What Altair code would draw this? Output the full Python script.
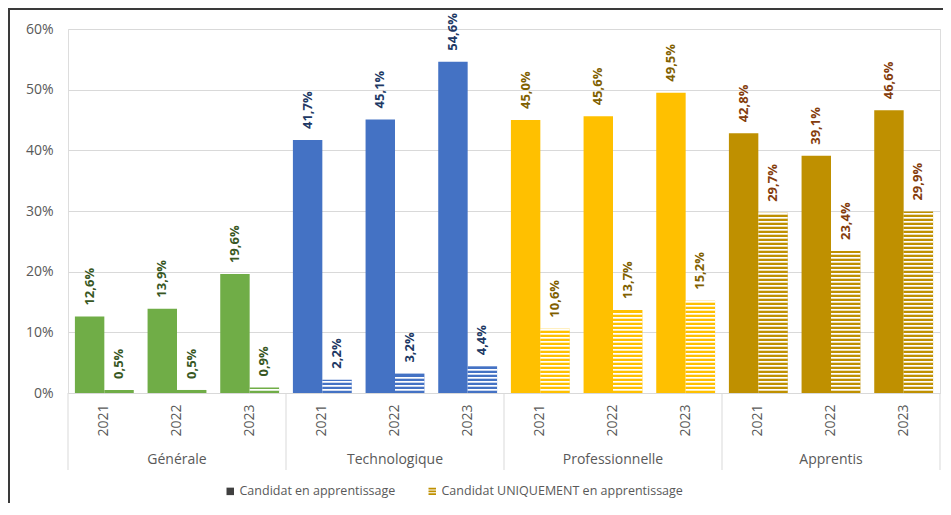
import altair as alt
import pandas as pd

categories = ["Générale", "Technologique", "Professionnelle", "Apprentis"]
years = ["2021", "2022", "2023"]
series = ["Candidat en apprentissage", "Candidat UNIQUEMENT en apprentissage"]
candidat = [[12.6, 13.9, 19.6], [41.7, 45.1, 54.6], [45.0, 45.6, 49.5], [42.8, 39.1, 46.6]]
uniquement = [[0.5, 0.5, 0.9], [2.2, 3.2, 4.4], [10.6, 13.7, 15.2], [29.7, 23.4, 29.9]]
bar_colors = ["#70AD47", "#4472C4", "#FFC000", "#BF9000"]
label_colors = ["#385723", "#203864", "#7F6000", "#843C0C"]
legend_colors = ["#404040", "#BF9000"]

W, H = 872, 364
YMAX = 0.6
PX = YMAX / H          # data units per pixel
STEP = 4 * PX          # stripe period
COLORED = 2.3 * PX     # coloured part of the stripe
FONT = "Open Sans"
GREY = "#595959"
GRID = "#D9D9D9"

rows = []
slots = []
for ci, cat in enumerate(categories):
    for yi, yr in enumerate(years):
        slot = f"{cat}|{yr}"
        slots.append(slot)
        for si, s in enumerate(series):
            v = (candidat if si == 0 else uniquement)[ci][yi] / 100
            rows.append({"slot": slot, "series": s, "value": v,
                         "bar_color": bar_colors[ci], "label_color": label_colors[ci]})
df = pd.DataFrame(rows)

n = len(years)
cat_df = pd.DataFrame({"cat": categories, "center": [i * n + n / 2 for i in range(len(categories))]})
sep_df = pd.DataFrame({"b": [i * n for i in range(len(categories) + 1)]})
leg_df = pd.DataFrame({"series": series})

x_enc = alt.X("slot:N", sort=slots,
              scale=alt.Scale(domain=slots, paddingInner=0.19, paddingOuter=0.095),
              axis=alt.Axis(labelExpr="split(datum.label, '|')[1]", labelAngle=270,
                            labelFont=FONT, labelFontSize=14, labelColor=GREY,
                            labelPadding=11, ticks=False, domain=True, domainColor=GRID,
                            grid=False, title=None))
x_plain = alt.X("slot:N", sort=slots,
                scale=alt.Scale(domain=slots, paddingInner=0.19, paddingOuter=0.095))
xoff = alt.XOffset("series:N", scale=alt.Scale(domain=series, paddingInner=0, paddingOuter=0))
y_enc = alt.Y("value:Q", scale=alt.Scale(domain=[0, YMAX], nice=False),
              axis=alt.Axis(values=[0, 0.1, 0.2, 0.3, 0.4, 0.5, 0.6], format=".0%",
                            labelFont=FONT, labelFontSize=14, labelColor=GREY,
                            labelPadding=15, ticks=False, domain=False,
                            gridColor=GRID, title=None))

bars = alt.Chart(df).mark_bar().encode(
    x=x_enc, xOffset=xoff, y=y_enc,
    color=alt.Color("bar_color:N", scale=None))

stripes = alt.Chart(df).transform_filter(
    alt.datum.series == series[1]
).transform_calculate(
    k="sequence(0, 60)"
).transform_flatten(["k"]).transform_calculate(
    y0=f"datum.k * {STEP} + {COLORED}",
    y1=f"(datum.k + 1) * {STEP}"
).transform_filter("datum.y1 <= datum.value").mark_bar(color="white").encode(
    x=x_plain, xOffset=xoff,
    y=alt.Y("y0:Q", scale=alt.Scale(domain=[0, YMAX], nice=False)),
    y2="y1:Q")

labels = alt.Chart(df).transform_calculate(
    lab="replace(format(datum.value, '.1%'), '.', ',')"
).mark_text(angle=270, align="left", baseline="middle", dx=11,
            font=FONT, fontSize=13, fontWeight="bold").encode(
    x=x_plain, xOffset=xoff,
    y=alt.Y("value:Q", scale=alt.Scale(domain=[0, YMAX], nice=False)),
    text="lab:N",
    color=alt.Color("label_color:N", scale=None))

STRIPE_PATH = "M-1,-1H1V-0.5H-1Z M-1,-0.25H1V0.25H-1Z M-1,0.5H1V1H-1Z"
leg = alt.Legend(orient="none", legendX=156, legendY=456, direction="horizontal",
                 title=None, labelFont=FONT, labelFontSize=12.5, labelColor=GREY,
                 labelLimit=1000, symbolSize=56, symbolOpacity=1, symbolStrokeWidth=0,
                 columnPadding=30, padding=0, labelOffset=3)
dummy = alt.Chart(leg_df).mark_point(filled=True, opacity=0).encode(
    x=alt.value(0), y=alt.value(0),
    fill=alt.Fill("series:N", scale=alt.Scale(domain=series, range=legend_colors), legend=leg),
    shape=alt.Shape("series:N", scale=alt.Scale(domain=series, range=["square", STRIPE_PATH]),
                    legend=leg))

inner = alt.layer(bars, stripes, labels, dummy)

seps = alt.Chart(sep_df).mark_rule(color=GRID).encode(
    x=alt.X("b:Q", scale=alt.Scale(domain=[0, n * len(categories)], nice=False), axis=None),
    y=alt.value(H), y2=alt.value(H + 77))

cats = alt.Chart(cat_df).mark_text(font=FONT, fontSize=14, color=GREY,
                                   align="center", baseline="alphabetic").encode(
    x=alt.X("center:Q", scale=alt.Scale(domain=[0, n * len(categories)], nice=False), axis=None),
    y=alt.value(435), text="cat:N")

border_v = alt.Chart(alt.Data(values=[{}])).mark_rule(color="#3A3A3A", strokeWidth=2).encode(
    x=alt.value(-59), y=alt.value(-21), y2=alt.value(H + 130))
border_h = alt.Chart(alt.Data(values=[{}])).mark_rule(color="#3A3A3A", strokeWidth=2).encode(
    y=alt.value(-20), x=alt.value(-60), x2=alt.value(W + 10))

chart = alt.layer(inner, seps, cats, border_v, border_h).resolve_scale(
    x="independent"
).properties(
    width=W, height=H,
    padding={"left": 60, "top": 21, "right": 3, "bottom": 110},
    autosize="none"
).configure_view(stroke=None).configure(background="white")

chart.save("out.html", embed_options={"renderer": "svg", "actions": False})
